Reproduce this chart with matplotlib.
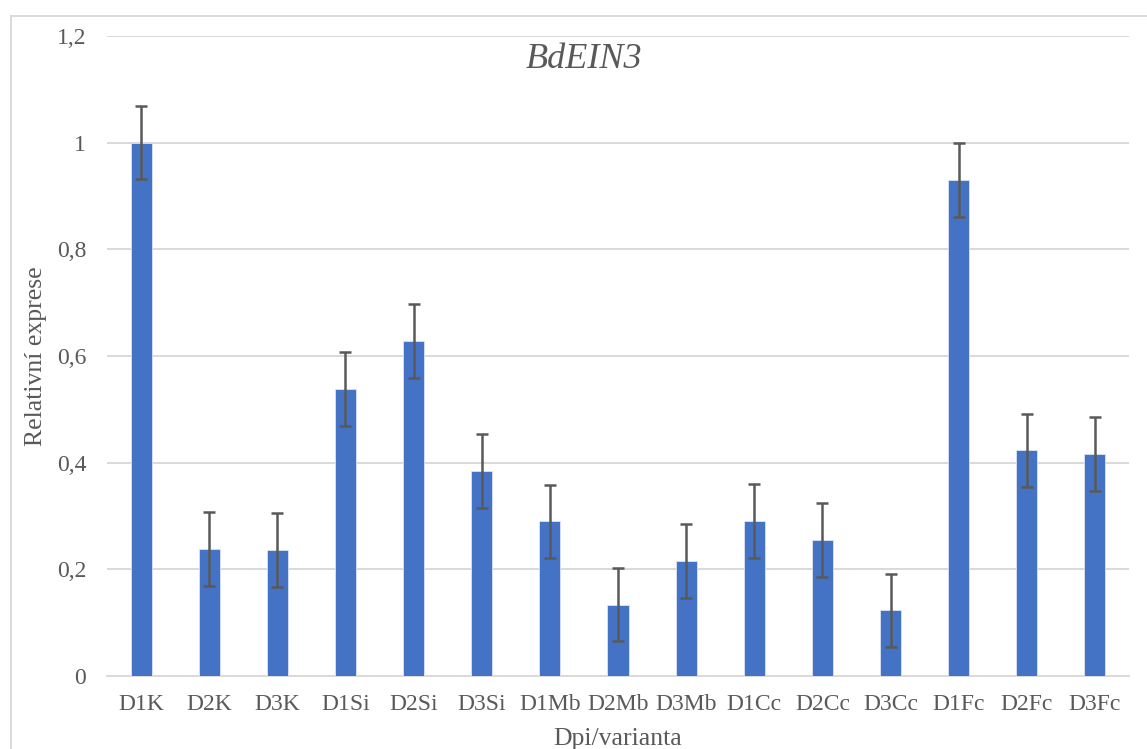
import matplotlib.pyplot as plt
from matplotlib.patches import Rectangle

categories = ["D1K", "D2K", "D3K", "D1Si", "D2Si", "D3Si", "D1Mb", "D2Mb",
              "D3Mb", "D1Cc", "D2Cc", "D3Cc", "D1Fc", "D2Fc", "D3Fc"]
values = [1.0, 0.238, 0.236, 0.538, 0.628, 0.384, 0.290, 0.134,
          0.216, 0.291, 0.255, 0.123, 0.930, 0.423, 0.416]
errors = [0.069] * 15
yticks = [0, 0.2, 0.4, 0.6, 0.8, 1.0, 1.2]
ytick_labels = ["0", "0,2", "0,4", "0,6", "0,8", "1", "1,2"]

plt.rcParams['font.family'] = ['Liberation Serif', 'DejaVu Serif']

fig = plt.figure(figsize=(11.47, 7.49), dpi=100)
ax = fig.add_axes([107 / 1147, 73 / 749, 1022 / 1147, 640 / 749])

x = range(len(categories))
ax.bar(x, values, width=0.31, color="#4472C4", edgecolor="#dce4f5", linewidth=0.6,
       zorder=3)
ax.errorbar(x, values, yerr=errors, fmt="none", ecolor="#595959", elinewidth=1.8,
            capsize=4.5, capthick=1.8, zorder=4)

ax.set_xlim(-0.5, len(categories) - 0.5)
ax.set_ylim(0, 1.2)
ax.set_yticks(yticks)
ax.set_yticklabels(ytick_labels)
ax.set_xticks(list(x))
ax.set_xticklabels(categories)
ax.tick_params(axis="both", length=0, labelsize=17, colors="#595959")
ax.tick_params(axis="y", pad=15)
ax.tick_params(axis="x", pad=13)
ax.grid(axis="y", color="#d9d9d9", linewidth=1.4, zorder=0)
for s in ["top", "right", "left"]:
    ax.spines[s].set_visible(False)
ax.spines["bottom"].set_color("#d9d9d9")
ax.spines["bottom"].set_linewidth(1.4)

ax.set_ylabel("Relativní exprese", fontsize=18.5, color="#595959", labelpad=7)
ax.set_xlabel("Dpi/varianta", fontsize=18.5, color="#595959", labelpad=9)
fig.text(584 / 1147, 1 - 59 / 749, "BdEIN3", fontsize=26, style="italic",
         color="#595959", ha="center", va="center")

# chart area border
fig.patches.append(Rectangle((11 / 1147, -0.1), 1.2, 1 - 16 / 749 + 0.1,
                             transform=fig.transFigure, fill=False,
                             edgecolor="#d9d9d9", linewidth=1.4))

plt.savefig("out.png")
